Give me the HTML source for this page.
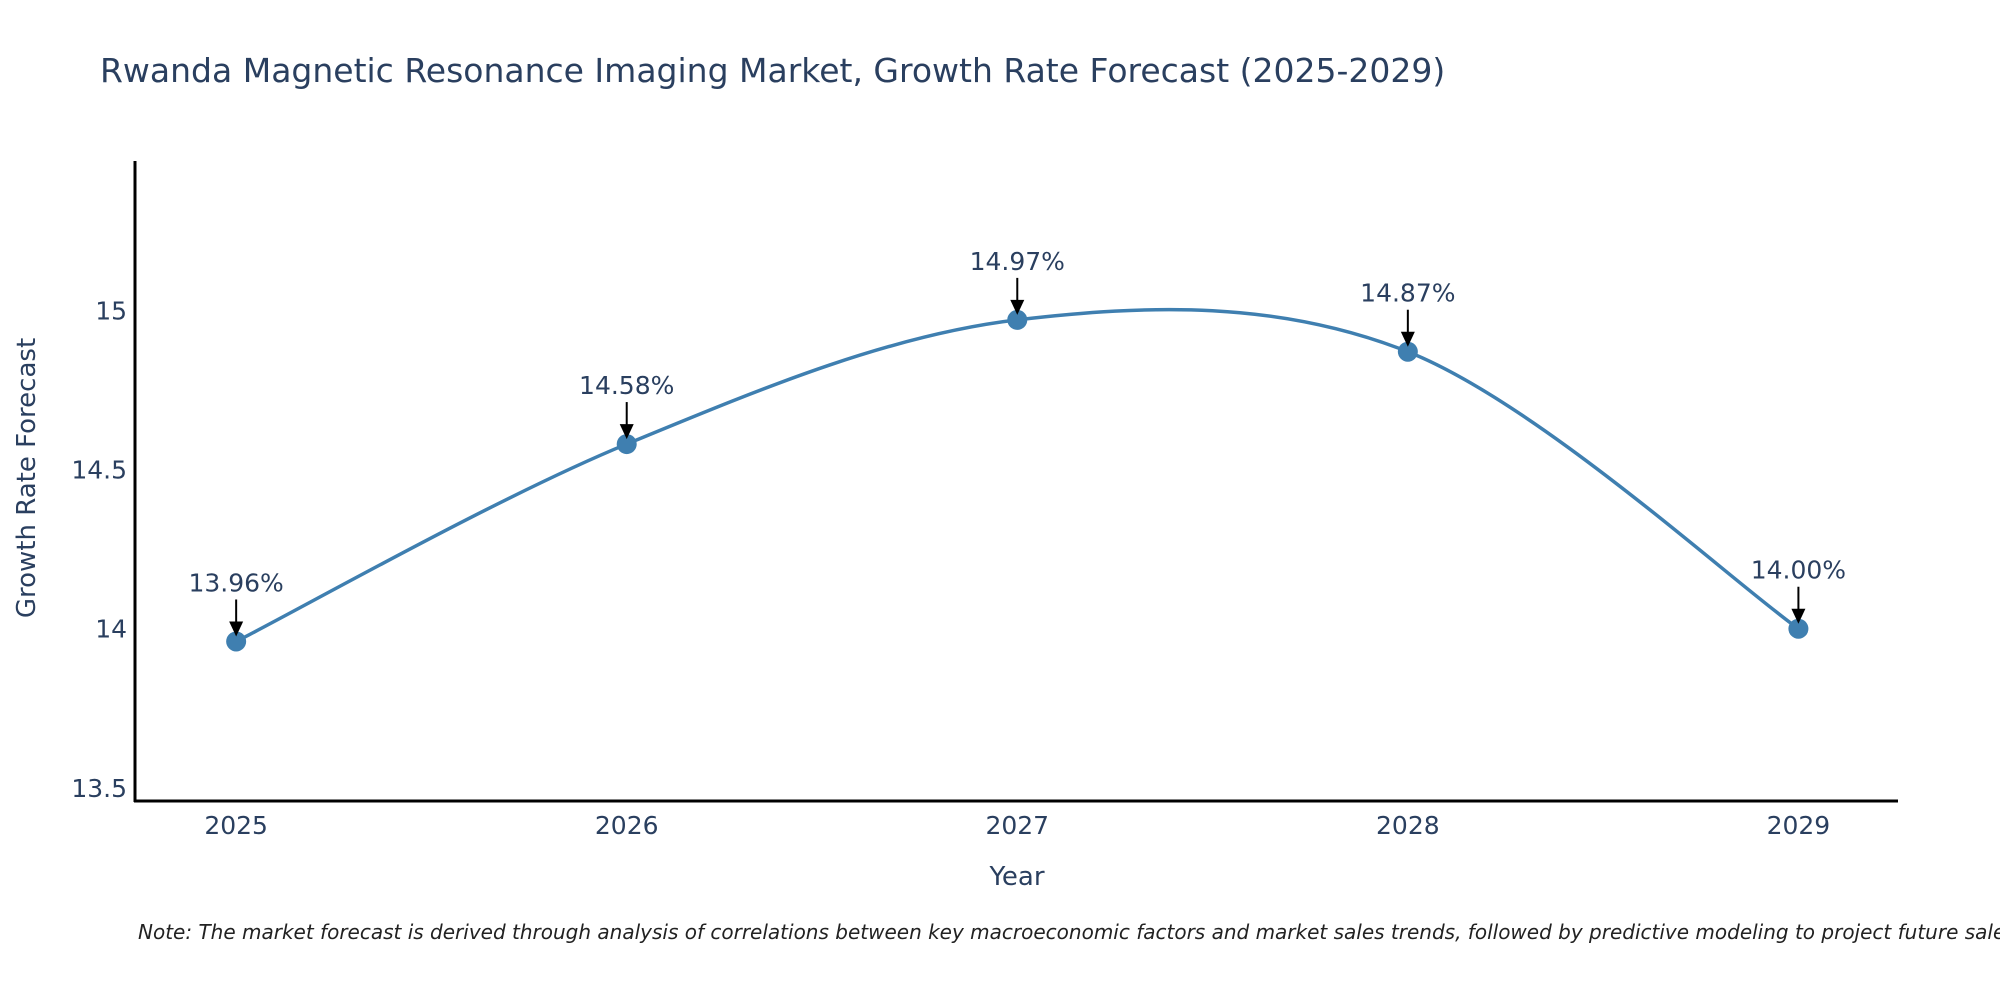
<!DOCTYPE html>
<html><head><meta charset="utf-8"><style>
body{margin:0;background:#fff;}
svg{display:block;font-family:"DejaVu Sans","Liberation Sans",sans-serif;}
</style></head><body>
<svg id="chart" width="2000" height="1000">
<text x="100" y="82" font-size="33" fill="#2a3f5f">Rwanda Magnetic Resonance Imaging Market, Growth Rate Forecast (2025-2029)</text>
<g id="yticks"></g>
<g id="xticks"></g>
<path id="line" fill="none" stroke="#3f7fb0" stroke-width="3.5"></path>
<g id="pts"></g>
<line x1="135" y1="161" x2="135" y2="802" stroke="#000" stroke-width="3"/>
<line x1="134" y1="801" x2="1898" y2="801" stroke="#000" stroke-width="3"/>
<text transform="translate(35,478) rotate(-90)" text-anchor="middle" font-size="26" fill="#2a3f5f">Growth Rate Forecast</text>
<text x="1017" y="885" text-anchor="middle" font-size="26" fill="#2a3f5f">Year</text>
<text x="138" y="939" font-size="20" font-style="italic" fill="#222">Note: The market forecast is derived through analysis of correlations between key macroeconomic factors and market sales trends, followed by predictive modeling to project future sales.</text>
</svg>
<script>
const years=[2025,2026,2027,2028,2029];
const values=[13.96,14.58,14.97,14.87,14.00];
const labels=["13.96%","14.58%","14.97%","14.87%","14.00%"];
const yTickVals=[13.5,14,14.5,15];
const yTickLabels=["13.5","14","14.5","15"];
const NS="http://www.w3.org/2000/svg";
const X=v=>135+(v-2024.741)/(2029.255-2024.741)*(1898-135);
const Y=v=>161+(15.469-v)/(15.469-13.459)*(801-161);
function mk(tag,attrs,parent,text){const e=document.createElementNS(NS,tag);for(const k in attrs)e.setAttribute(k,attrs[k]);if(text!==undefined)e.textContent=text;parent.appendChild(e);return e;}
const yt=document.getElementById('yticks');
yTickVals.forEach((v,i)=>{const t=mk('text',{x:127,y:Y(v)+9,'text-anchor':'end','font-size':25,fill:'#2a3f5f'},yt,yTickLabels[i]);

});
const xt=document.getElementById('xticks');
years.forEach(v=>{const t=mk('text',{x:X(v),y:834,'text-anchor':'middle','font-size':25,fill:'#2a3f5f'},xt,String(v));

});
const P=years.map((y,i)=>[X(y),Y(values[i])]);
let d=`M${P[0][0]},${P[0][1]}`;
const s=0.5;
for(let i=0;i<P.length-1;i++){const p0=P[Math.max(0,i-1)],p1=P[i],p2=P[i+1],p3=P[Math.min(P.length-1,i+2)];
const c1=[p1[0]+(p2[0]-p0[0])*s/3,p1[1]+(p2[1]-p0[1])*s/3];
const c2=[p2[0]-(p3[0]-p1[0])*s/3,p2[1]-(p3[1]-p1[1])*s/3];
d+=` C${c1[0]},${c1[1]} ${c2[0]},${c2[1]} ${p2[0]},${p2[1]}`;}
document.getElementById('line').setAttribute('d',d);
const g=document.getElementById('pts');
P.forEach((p,i)=>{
const c=mk('circle',{cx:p[0],cy:p[1],r:10,fill:'#3f7fb0'},g);


const l=mk('line',{x1:p[0],y1:p[1]-42,x2:p[0],y2:p[1]-18,stroke:'#000','stroke-width':2},g);


const a=mk('polygon',{points:`${p[0]-7},${p[1]-20} ${p[0]+7},${p[1]-20} ${p[0]},${p[1]-5}`,fill:'#000'},g);


const t=mk('text',{x:p[0],y:p[1]-50,'text-anchor':'middle','font-size':25,fill:'#2a3f5f'},g,labels[i]);


});
</script>
</body></html>
